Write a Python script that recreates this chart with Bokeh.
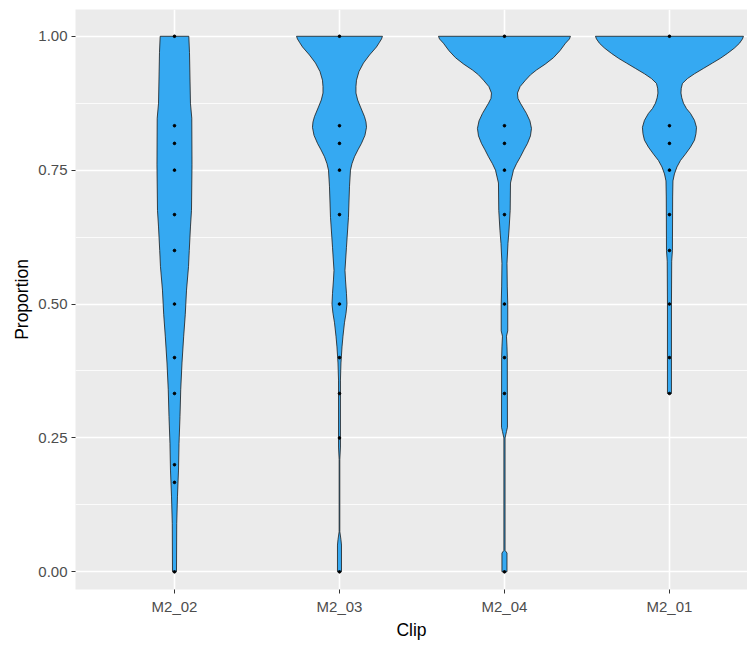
from bokeh.plotting import figure
from bokeh.models import FixedTicker, Range1d
from bokeh.embed import file_html
from bokeh.resources import INLINE

# ---------------- data ----------------
clips = ["M2_02", "M2_03", "M2_04", "M2_01"]

# violin outlines: proportion levels and relative violin width (1.0 = widest of all)
m2_02_y = [1.0, 0.97, 0.875, 0.847, 0.76, 0.675, 0.644, 0.60, 0.57, 0.526, 0.48, 0.44,
           0.39, 0.34, 0.29, 0.24, 0.19, 0.14, 0.09, 0.0]
m2_02_w = [0.193, 0.202, 0.215, 0.233, 0.236, 0.229, 0.215, 0.199, 0.189, 0.162, 0.145,
           0.124, 0.101, 0.084, 0.074, 0.061, 0.054, 0.040, 0.030, 0.027]

m2_03_y = [1.0, 0.995, 0.988, 0.98, 0.965, 0.95, 0.934, 0.918, 0.906, 0.894, 0.881,
           0.868, 0.85, 0.84, 0.83, 0.815, 0.80, 0.788, 0.775, 0.762, 0.75, 0.72,
           0.662, 0.606, 0.563, 0.545, 0.52, 0.50, 0.483, 0.465, 0.44, 0.42, 0.39,
           0.358, 0.233, 0.21, 0.075, 0.06, 0.05, 0.0]
m2_03_w = [0.579, 0.566, 0.535, 0.498, 0.404, 0.323, 0.262, 0.229, 0.222, 0.222, 0.245,
           0.283, 0.337, 0.357, 0.364, 0.343, 0.296, 0.249, 0.202, 0.168, 0.148, 0.135,
           0.121, 0.094, 0.074, 0.081, 0.094, 0.101, 0.088, 0.067, 0.047, 0.034, 0.020,
           0.013, 0.013, 0.005, 0.005, 0.020, 0.027, 0.027]

m2_04_y = [1.0, 0.995, 0.987, 0.973, 0.96, 0.948, 0.937, 0.928, 0.918, 0.906, 0.894,
           0.884, 0.875, 0.856, 0.842, 0.828, 0.814, 0.80, 0.788, 0.775, 0.762, 0.75,
           0.726, 0.675, 0.638, 0.613, 0.576, 0.532, 0.50, 0.45, 0.44, 0.42, 0.40,
           0.27, 0.262, 0.25, 0.04, 0.035, 0.0]
m2_04_w = [0.889, 0.875, 0.822, 0.747, 0.660, 0.549, 0.431, 0.350, 0.283, 0.210, 0.175,
           0.182, 0.215, 0.296, 0.343, 0.364, 0.350, 0.310, 0.263, 0.215, 0.162, 0.121,
           0.081, 0.077, 0.061, 0.047, 0.034, 0.038, 0.044, 0.044, 0.027, 0.034, 0.038,
           0.040, 0.027, 0.008, 0.008, 0.034, 0.034]

m2_01_y = [1.0, 0.995, 0.987, 0.978, 0.968, 0.959, 0.95, 0.94, 0.93, 0.921, 0.912,
           0.903, 0.894, 0.885, 0.875, 0.865, 0.856, 0.843, 0.83, 0.818, 0.806, 0.793,
           0.78, 0.768, 0.756, 0.743, 0.73, 0.70, 0.60, 0.58, 0.50, 0.40, 0.333]
m2_01_w = [0.997, 0.983, 0.943, 0.875, 0.781, 0.687, 0.579, 0.458, 0.337, 0.242, 0.175,
           0.159, 0.155, 0.166, 0.189, 0.229, 0.283, 0.337, 0.364, 0.357, 0.337, 0.283,
           0.215, 0.148, 0.101, 0.067, 0.047, 0.043, 0.040, 0.030, 0.027, 0.027, 0.027]

# observed proportion values (points)
m2_02_pts = [1.0, 0.833, 0.8, 0.75, 0.667, 0.6, 0.5, 0.4, 0.333, 0.2, 0.167, 0.0]
m2_03_pts = [1.0, 0.833, 0.8, 0.75, 0.667, 0.5, 0.4, 0.333, 0.25, 0.0]
m2_04_pts = [1.0, 0.833, 0.8, 0.75, 0.667, 0.5, 0.4, 0.333, 0.0]
m2_01_pts = [1.0, 0.833, 0.8, 0.75, 0.667, 0.6, 0.5, 0.4, 0.333]

profiles = [(m2_02_y, m2_02_w, m2_02_pts), (m2_03_y, m2_03_w, m2_03_pts),
            (m2_04_y, m2_04_w, m2_04_pts), (m2_01_y, m2_01_w, m2_01_pts)]

FONT = "Liberation Sans"
MAX_HALF = 0.45  # ggplot default width 0.9

p = figure(width=747, height=642, output_backend="svg", toolbar_location=None,
           x_range=Range1d(0.4, 4.473), y_range=Range1d(-0.033, 1.05),
           min_border_left=75, min_border_right=0, min_border_top=9, min_border_bottom=50)

p.background_fill_color = "#EBEBEB"
p.border_fill_color = "white"
p.outline_line_color = None

# grids
p.ygrid.ticker = FixedTicker(ticks=[0, 0.25, 0.5, 0.75, 1.0],
                             minor_ticks=[0.125, 0.375, 0.625, 0.875])
p.ygrid.grid_line_color = "white"
p.ygrid.grid_line_width = 1.6
p.ygrid.minor_grid_line_color = "white"
p.ygrid.minor_grid_line_width = 0.8
p.xgrid.ticker = FixedTicker(ticks=[1, 2, 3, 4])
p.xgrid.grid_line_color = "white"
p.xgrid.grid_line_width = 1.6

# axes
p.yaxis.ticker = FixedTicker(ticks=[0, 0.25, 0.5, 0.75, 1.0])
p.yaxis.major_label_overrides = {0: "0.00", 0.25: "0.25", 0.5: "0.50", 0.75: "0.75", 1.0: "1.00"}
p.xaxis.ticker = FixedTicker(ticks=[1, 2, 3, 4])
p.xaxis.major_label_overrides = {i + 1: c for i, c in enumerate(clips)}
for ax in (p.xaxis, p.yaxis):
    ax.axis_line_color = None
    ax.major_tick_line_color = "#333333"
    ax.major_tick_line_width = 1
    ax.major_tick_out = 4
    ax.major_tick_in = 0
    ax.minor_tick_line_color = None
    ax.major_label_text_font = FONT
    ax.major_label_text_font_size = "15px"
    ax.major_label_text_color = "#4D4D4D"
    ax.major_label_standoff = 4
    ax.axis_label_text_font = FONT
    ax.axis_label_text_font_size = "17.5px"
    ax.axis_label_text_font_style = "normal"
    ax.axis_label_text_color = "black"
p.xaxis.axis_label = "Clip"
p.yaxis.axis_label = "Proportion"
p.xaxis.axis_label_standoff = 2
p.yaxis.axis_label_standoff = 3

# violins
for i, (ys, ws, pts) in enumerate(profiles):
    cx = i + 1
    left = [cx - MAX_HALF * w for w in ws]
    right = [cx + MAX_HALF * w for w in ws]
    xs = left + right[::-1]
    yy = list(ys) + list(ys)[::-1]
    p.patch(xs, yy, fill_color="#35A9F2", line_color="#1A1A1A", line_width=0.8)
    p.scatter([cx] * len(pts), pts, size=2.6, color="black")

open("out.html", "w").write(file_html(p, INLINE))
